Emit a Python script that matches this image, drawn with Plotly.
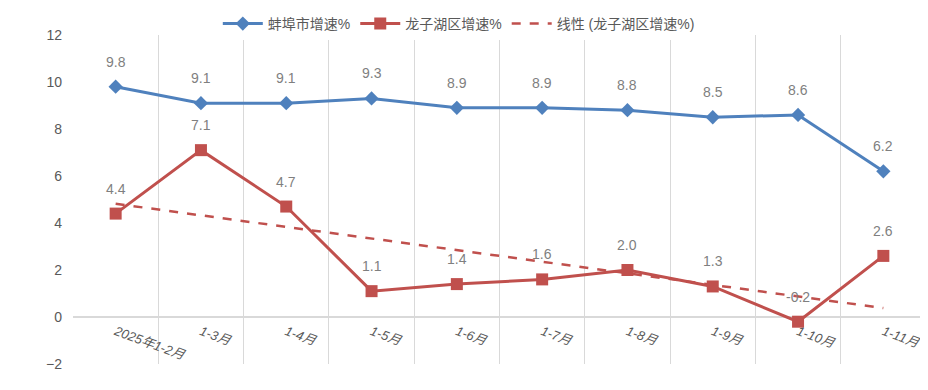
import numpy as np
import plotly.graph_objects as go

categories = ["2025年1-2月", "1-3月", "1-4月", "1-5月", "1-6月", "1-7月", "1-8月", "1-9月", "1-10月", "1-11月"]
bengbu = [9.8, 9.1, 9.1, 9.3, 8.9, 8.9, 8.8, 8.5, 8.6, 6.2]
longzihu = [4.4, 7.1, 4.7, 1.1, 1.4, 1.6, 2.0, 1.3, -0.2, 2.6]
y_ticks = [-2, 0, 2, 4, 6, 8, 10, 12]

BLUE = "#4F81BD"
RED = "#C0504D"
GRID = "#D9D9D9"
TXT = "#595959"
LBL = "#7F7F7F"
FONT = "Liberation Sans, Noto Sans CJK SC, sans-serif"

xs = np.arange(len(categories))
coef = np.polyfit(xs + 1, longzihu, 1)
trend = np.polyval(coef, xs + 1)

fig = go.Figure()
fig.add_trace(go.Scatter(x=xs, y=bengbu, mode="lines+markers", name="蚌埠市增速%",
                         line=dict(color=BLUE, width=3),
                         marker=dict(symbol="diamond", size=11, color=BLUE)))
fig.add_trace(go.Scatter(x=xs, y=longzihu, mode="lines+markers", name="龙子湖区增速%",
                         line=dict(color=RED, width=3),
                         marker=dict(symbol="square", size=12, color=RED)))
fig.add_trace(go.Scatter(x=xs, y=trend, mode="lines", name="线性 (龙子湖区增速%)",
                         line=dict(color=RED, width=2.5, dash="dash")))

annotations = []
for series in (bengbu, longzihu):
    for xi, v in zip(xs, series):
        annotations.append(dict(x=xi, y=v, text=f"{v:.1f}", showarrow=False, yshift=25,
                                font=dict(color=LBL, size=14, family=FONT)))

fig.update_layout(
    width=920, height=382,
    margin=dict(l=65, r=2, t=27, b=26, autoexpand=False),
    paper_bgcolor="white", plot_bgcolor="white",
    font=dict(family=FONT, color=TXT, size=13),
    showlegend=True,
    legend=dict(orientation="h", xref="container", yref="container", x=0.49, y=1.0,
                xanchor="center", yanchor="top", font=dict(size=14, color=TXT),
                itemwidth=40, tracegroupgap=0),
    annotations=annotations,
    xaxis=dict(range=[-0.5, 9.5], tickmode="array", tickvals=xs, ticktext=categories,
               tickangle=20, showgrid=False, zeroline=False, showline=False,
               anchor="free", position=2 / 14, ticks="", ticklabelstandoff=4,
               tickfont=dict(size=13, color=TXT, style="italic"),
               minor=dict(tickvals=list(np.arange(-0.5, 10, 1.0)), showgrid=True,
                          gridcolor=GRID, gridwidth=1, ticks="")),
    yaxis=dict(range=[-2, 12], tickvals=y_ticks, showgrid=False, zeroline=True,
               zerolinecolor=GRID, zerolinewidth=2, showline=False, ticks="",
               ticklabelstandoff=10, tickfont=dict(size=14, color=TXT)),
)

fig.write_html("out.html")
